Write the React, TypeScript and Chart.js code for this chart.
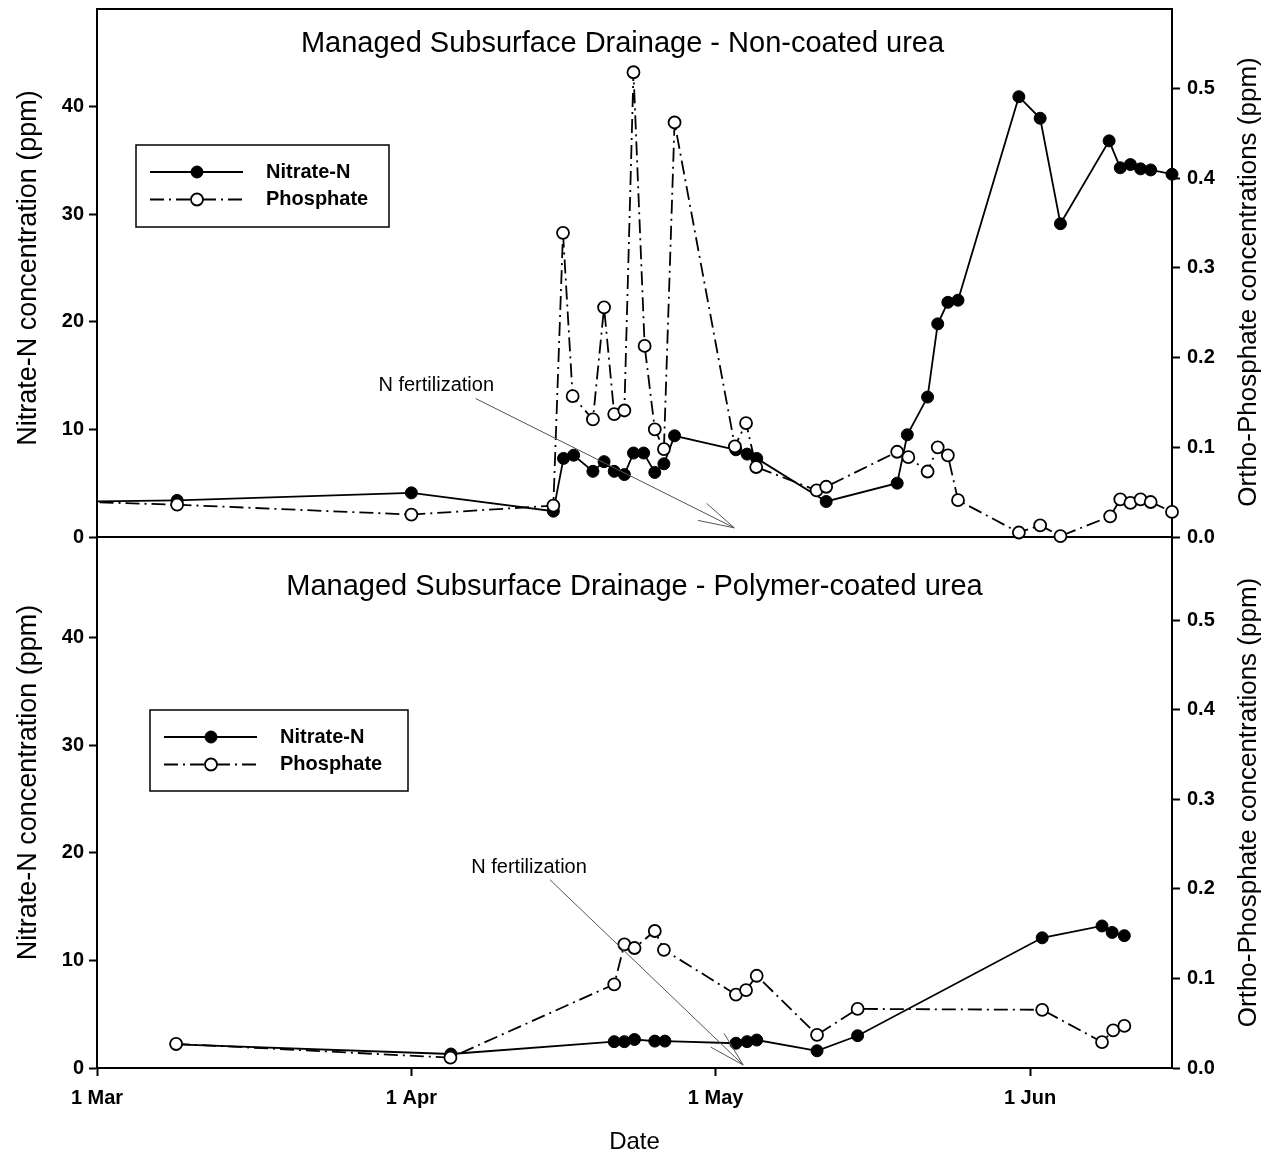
import React, { useEffect, useRef } from 'react';
import { Chart, registerables } from 'chart.js';

Chart.register(...registerables);

const FONT = '"Liberation Sans", Arial, Helvetica, sans-serif';
Chart.defaults.font.family = FONT;

// x values are days counted from 1 March (day 0)
const xTickDays = [0, 31, 61, 92];
const xTickLabels = ['1 Mar', '1 Apr', '1 May', '1 Jun'];
const nitrateTicks = [0, 10, 20, 30, 40];
const phosphateTicks = [0, 0.1, 0.2, 0.3, 0.4, 0.5];
const xMin = 0;
const xMax = 106;

const seriesNames = ['Nitrate-N', 'Phosphate'];
const panelTitles = [
  'Managed Subsurface Drainage - Non-coated urea',
  'Managed Subsurface Drainage - Polymer-coated urea',
];
const leftAxisTitle = 'Nitrate-N concentration (ppm)';
const rightAxisTitle = 'Ortho-Phosphate concentrations (ppm)';
const xAxisTitle = 'Date';
const annotationText = 'N fertilization';

// ---- Top panel: non-coated urea ----
const topNitrateDays = [-10, 7.9, 31, 45, 46, 47, 48.9, 50, 51, 52, 52.9, 53.9, 55, 55.9, 56.95, 63, 64.1, 65.05, 71.9, 78.9, 79.9, 81.9, 82.9, 83.9, 84.9, 90.9, 93, 95, 99.8, 100.9, 101.9, 102.9, 103.9, 106];
const topNitrateValues = [3.2, 3.4, 4.1, 2.4, 7.3, 7.6, 6.1, 7.0, 6.1, 5.8, 7.8, 7.8, 6.0, 6.8, 9.4, 8.1, 7.7, 7.3, 3.3, 5.0, 9.5, 13.0, 19.8, 21.8, 22.0, 40.9, 38.9, 29.1, 36.8, 34.3, 34.6, 34.2, 34.1, 33.7];
const topPhosphateDays = [-10, 7.9, 31, 45, 45.95, 46.9, 48.9, 50, 51, 52, 52.9, 54, 55, 55.9, 56.95, 62.9, 64, 65, 70.95, 71.9, 78.9, 80, 81.9, 82.9, 83.9, 84.9, 90.9, 93, 95, 99.9, 100.9, 101.9, 102.9, 103.9, 106];
const topPhosphateValues = [0.042, 0.036, 0.025, 0.035, 0.339, 0.157, 0.131, 0.256, 0.137, 0.141, 0.518, 0.213, 0.120, 0.098, 0.462, 0.101, 0.127, 0.078, 0.052, 0.056, 0.095, 0.089, 0.073, 0.100, 0.091, 0.041, 0.005, 0.013, 0.001, 0.023, 0.042, 0.038, 0.042, 0.039, 0.028];

// ---- Bottom panel: polymer-coated urea ----
const botNitrateDays = [7.8, 34.9, 51, 52, 53, 55, 56, 63, 64.1, 65.05, 71, 75, 93.2, 99.1, 100.1, 101.3];
const botNitrateValues = [2.2, 1.3, 2.45, 2.45, 2.65, 2.5, 2.5, 2.3, 2.45, 2.6, 1.6, 3.0, 12.1, 13.2, 12.6, 12.3];
const botPhosphateDays = [7.8, 34.85, 51, 52, 53, 55, 55.9, 63, 64, 65.05, 71, 75, 93.2, 99.1, 100.2, 101.3];
const botPhosphateValues = [0.027, 0.0115, 0.0935, 0.138, 0.134, 0.153, 0.132, 0.082, 0.087, 0.103, 0.037, 0.066, 0.065, 0.029, 0.042, 0.047];

// annotation anchors in data units [day, nitrate ppm]
const topArrow = { text: [33.45, 13.6], from: [37.34, 12.86], to: [62.84, 0.85] };
const botArrow = { text: [42.6, 18.1], from: [44.67, 17.49], to: [63.72, 0.28] };

const LEFT_W = 97;
const RIGHT_W = 100;

const decorPlugin = {
  id: 'decor',
  afterDraw(chart: any, _args: any, o: any) {
    const { ctx, chartArea: a, scales } = chart;
    const xs = scales.x;
    const yl = scales.y;
    ctx.save();
    ctx.fillStyle = '#000';
    ctx.strokeStyle = '#000';
    if (o.topFrame) {
      ctx.lineWidth = 2;
      ctx.beginPath();
      ctx.moveTo(a.left - 1, a.top);
      ctx.lineTo(a.right + 1, a.top);
      ctx.stroke();
    }
    // panel title
    ctx.font = `29px ${FONT}`;
    ctx.textAlign = 'center';
    ctx.textBaseline = 'alphabetic';
    ctx.fillText(o.title, (a.left + a.right) / 2 + o.titleDx, a.top + o.titleDy);

    // axis titles (both read bottom-to-top)
    ctx.textBaseline = 'middle';
    const cy = (a.top + a.bottom) / 2;
    ctx.font = `27px ${FONT}`;
    ctx.save();
    ctx.translate(o.leftTitleX, cy + o.leftTitleDy);
    ctx.rotate(-Math.PI / 2);
    ctx.fillText(leftAxisTitle, 0, 0);
    ctx.restore();
    ctx.font = `26px ${FONT}`;
    ctx.save();
    ctx.translate(o.rightTitleX, cy + o.rightTitleDy);
    ctx.rotate(-Math.PI / 2);
    ctx.fillText(rightAxisTitle, 0, 0);
    ctx.restore();

    // legend
    const lg = o.legend;
    const bx = a.left + lg.dx;
    const by = a.top + lg.dy;
    ctx.fillStyle = '#fff';
    ctx.fillRect(bx, by, lg.w, lg.h);
    ctx.lineWidth = 1.5;
    ctx.strokeStyle = '#000';
    ctx.strokeRect(bx, by, lg.w, lg.h);
    chart.data.datasets.forEach((ds: any, i: number) => {
      const ry = by + 27 + i * 27.5;
      ctx.strokeStyle = '#000';
      ctx.setLineDash(ds.borderDash || []);
      ctx.lineWidth = ds.borderWidth;
      ctx.beginPath();
      ctx.moveTo(bx + 14, ry);
      ctx.lineTo(bx + 107, ry);
      ctx.stroke();
      ctx.setLineDash([]);
      ctx.beginPath();
      ctx.arc(bx + 61, ry, ds.pointRadius, 0, Math.PI * 2);
      ctx.fillStyle = ds.pointBackgroundColor;
      ctx.fill();
      ctx.lineWidth = ds.pointBorderWidth;
      ctx.stroke();
      ctx.fillStyle = '#000';
      ctx.font = `bold 20px ${FONT}`;
      ctx.textAlign = 'left';
      ctx.textBaseline = 'middle';
      ctx.fillText(ds.label, bx + 130, ry);
    });

    // annotation
    const ar = o.arrow;
    const px = (d: number[]) => xs.getPixelForValue(d[0]);
    const py = (d: number[]) => yl.getPixelForValue(d[1]);
    ctx.fillStyle = '#000';
    ctx.font = `20px ${FONT}`;
    ctx.textAlign = 'center';
    ctx.textBaseline = 'alphabetic';
    ctx.fillText(annotationText, px(ar.text), py(ar.text));
    const x0 = px(ar.from), y0 = py(ar.from), x1 = px(ar.to), y1 = py(ar.to);
    ctx.strokeStyle = '#555';
    ctx.lineWidth = 1;
    ctx.beginPath();
    ctx.moveTo(x0, y0);
    ctx.lineTo(x1, y1);
    const ang = Math.atan2(y0 - y1, x0 - x1);
    const hl = 37;
    for (const s of [-1, 1]) {
      const t = ang + s * (15 * Math.PI) / 180;
      ctx.moveTo(x1, y1);
      ctx.lineTo(x1 + hl * Math.cos(t), y1 + hl * Math.sin(t));
    }
    ctx.stroke();
    ctx.restore();
  },
};

const pts = (xs: number[], ys: number[]) => xs.map((x, i) => ({ x, y: ys[i] }));

function yAxis(pos: string, max: number, ticks: number[], fmt: (v: number) => string, pad: number) {
  return {
    type: 'linear',
    position: pos,
    min: 0,
    max,
    afterBuildTicks: (s: any) => {
      s.ticks = ticks.map((v) => ({ value: v }));
    },
    afterFit: (s: any) => {
      s.width = pos === 'left' ? LEFT_W : RIGHT_W;
      s.paddingTop = 0;
      s.paddingBottom = 0;
    },
    grid: { display: true, drawOnChartArea: false, drawTicks: true, tickLength: 8, tickWidth: 2, tickColor: '#000', color: '#000' },
    border: { display: true, color: '#000', width: 2 },
    ticks: { color: '#000', padding: pad, font: { family: FONT, size: 20, weight: 'bold' }, callback: (v: number) => fmt(v) },
  };
}

function makeConfig(p: any) {
  const xAxis: any = {
    type: 'linear',
    min: xMin,
    max: xMax,
    afterBuildTicks: (s: any) => {
      s.ticks = xTickDays.map((v) => ({ value: v }));
    },
    afterFit: (s: any) => {
      s.height = p.xHeight;
      s.paddingLeft = 0;
      s.paddingRight = 0;
    },
    border: { display: true, color: '#000', width: 2 },
  };
  if (p.showX) {
    xAxis.grid = { display: true, drawOnChartArea: false, drawTicks: true, tickLength: 8, tickWidth: 2, tickColor: '#000', color: '#000' };
    xAxis.ticks = {
      display: true,
      color: '#000',
      padding: 10,
      maxRotation: 0,
      autoSkip: false,
      font: { family: FONT, size: 20, weight: 'bold' },
      callback: (_v: number, i: number) => xTickLabels[i],
    };
    xAxis.title = { display: true, text: xAxisTitle, color: '#000', font: { family: FONT, size: 24 }, padding: { top: 0, bottom: 2 } };
  } else {
    xAxis.grid = { display: true, drawOnChartArea: false, drawTicks: false, color: '#000' };
    xAxis.ticks = { display: false };
  }
  const clip = { left: 0, right: 10, top: 10, bottom: 10 };
  return {
    type: 'line',
    data: {
      datasets: [
        {
          label: seriesNames[0],
          data: pts(p.nDays, p.nVals),
          yAxisID: 'y',
          borderColor: '#000',
          borderWidth: 1.8,
          pointRadius: 6,
          pointBackgroundColor: '#000',
          pointBorderColor: '#000',
          pointBorderWidth: 1,
          tension: 0,
          clip,
          order: 2,
        },
        {
          label: seriesNames[1],
          data: pts(p.pDays, p.pVals),
          yAxisID: 'y1',
          borderColor: '#000',
          borderWidth: 1.8,
          borderDash: [14, 5, 2, 5],
          pointRadius: 6,
          pointBackgroundColor: '#fff',
          pointBorderColor: '#000',
          pointBorderWidth: 1.8,
          tension: 0,
          clip,
          order: 1,
        },
      ],
    },
    options: {
      responsive: false,
      animation: false,
      events: [],
      layout: { padding: { top: p.padTop, left: 0, right: 0, bottom: 0 } },
      plugins: {
        legend: { display: false },
        tooltip: { enabled: false },
        decor: {
          topFrame: p.topFrame,
          title: p.title,
          titleDx: p.titleDx,
          titleDy: p.titleDy,
          leftTitleX: 29,
          leftTitleDy: p.leftTitleDy,
          rightTitleX: 1249,
          rightTitleDy: p.rightTitleDy,
          legend: p.legend,
          arrow: p.arrow,
        },
      },
      scales: {
        x: xAxis,
        y: yAxis('left', p.nMax, nitrateTicks, (v) => String(v), 5),
        y1: yAxis('right', p.pMax, phosphateTicks, (v) => v.toFixed(1), 7),
      },
    },
    plugins: [decorPlugin],
  };
}

const topPanel = {
  nDays: topNitrateDays, nVals: topNitrateValues, pDays: topPhosphateDays, pVals: topPhosphateValues,
  nMax: 49.05, pMax: 0.5885, padTop: 9, xHeight: 23, showX: false, topFrame: true,
  title: panelTitles[0], titleDx: -12, titleDy: 43, leftTitleDy: -5, rightTitleDy: 9,
  legend: { dx: 39, dy: 136, w: 253, h: 82 }, arrow: topArrow,
};
const bottomPanel = {
  nDays: botNitrateDays, nVals: botNitrateValues, pDays: botPhosphateDays, pVals: botPhosphateValues,
  nMax: 49.35, pMax: 0.593, padTop: 20, xHeight: 91, showX: true, topFrame: false,
  title: panelTitles[1], titleDx: 0, titleDy: 58, leftTitleDy: -20, rightTitleDy: 0,
  legend: { dx: 53, dy: 173, w: 258, h: 81 }, arrow: botArrow,
};

export default function App() {
  const topRef = useRef<HTMLCanvasElement>(null);
  const botRef = useRef<HTMLCanvasElement>(null);
  useEffect(() => {
    const c1 = new Chart(topRef.current as any, makeConfig(topPanel) as any);
    const c2 = new Chart(botRef.current as any, makeConfig(bottomPanel) as any);
    return () => {
      c1.destroy();
      c2.destroy();
    };
  }, []);
  return (
    <div style={{ position: 'absolute', left: 0, top: 0, width: 1272, height: 1159, background: '#fff', overflow: 'hidden' }}>
      <canvas ref={topRef} width={1272} height={560} style={{ position: 'absolute', left: 0, top: 0, width: 1272, height: 560 }} />
      <canvas ref={botRef} width={1272} height={642} style={{ position: 'absolute', left: 0, top: 517, width: 1272, height: 642 }} />
    </div>
  );
}
